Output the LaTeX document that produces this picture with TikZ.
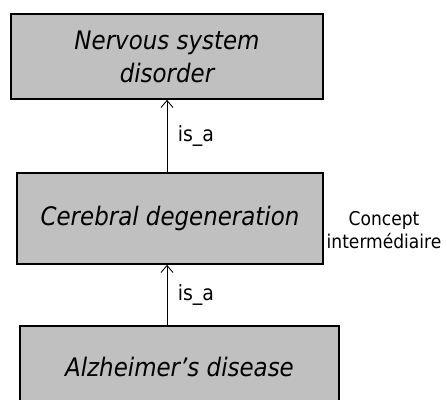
\documentclass[tikz,border=0pt]{standalone}
\usepackage{fontspec}
\setmainfont{DejaVu Sans}
\newfontfamily\condfont{DejaVu Sans Condensed}
\usepackage{tikz}
\usetikzlibrary{arrows.meta,positioning}
\definecolor{boxgray}{RGB}{192,192,192}
\tikzset{concept/.style={draw=black, line width=1.6pt, fill=boxgray, align=center,
    font=\condfont\itshape\fontsize{25.5}{33}\selectfont, inner sep=0pt},
  isa/.style={line width=0.9pt, -{Straight Barb[length=7pt,width=12pt]}},
  lbl/.style={font=\condfont\fontsize{21}{23}\selectfont}}

\begin{document}
\begin{tikzpicture}[x=1pt, y=-1pt]
\useasboundingbox (0,0) rectangle (447,399);
\clip (0,0) rectangle (447,399);
\fill[white] (0,0) rectangle (447,399);

% Concepts
\node[concept, minimum width=312pt, minimum height=85pt] (nsd) at (167,56.5) {Nervous system\\disorder};
\node[concept, minimum width=306pt, minimum height=91pt] (cd) at (170,218.5) {Cerebral degeneration};
\node[concept, minimum width=319pt, minimum height=82pt] (alz) at (179.5,367) {Alzheimer’s disease};

% is_a links
\draw[isa] (cd.north -| 167,0) -- (nsd.south -| 167,0) node[midway, right=7pt, lbl] {is\_a};
\draw[isa] (alz.north -| 167,0) -- (cd.south -| 167,0) node[midway, right=7pt, lbl] {is\_a};

% Side note
\node[lbl, align=center, font=\condfont\fontsize{19}{23}\selectfont] (note) at (384,230) {Concept\\interm\'ediaire};
\end{tikzpicture}
\end{document}
